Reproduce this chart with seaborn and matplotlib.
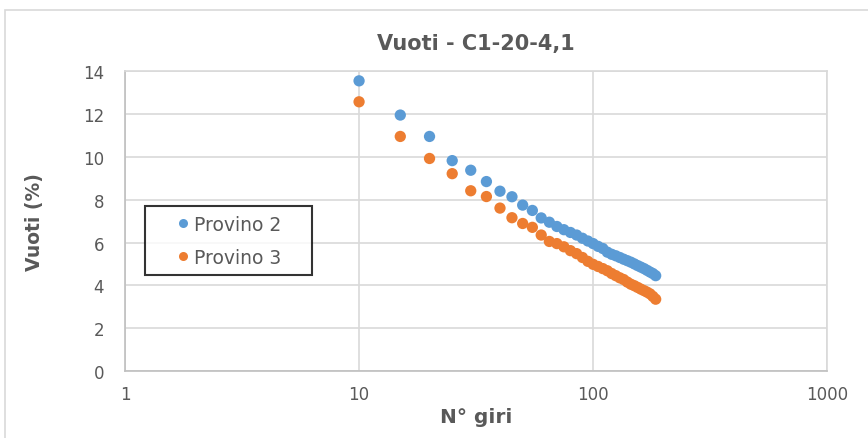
import pandas as pd
import matplotlib
matplotlib.use("Agg")
import matplotlib.pyplot as plt
import seaborn as sns
from matplotlib.patches import Rectangle

# N° giri (ogni 5 giri)
giri = list(range(10, 190, 5))

provino_2 = [13.56, 11.96, 10.96, 9.83, 9.38, 8.85, 8.40, 8.14, 7.75, 7.50,
             7.15, 6.95, 6.75, 6.60, 6.47, 6.35, 6.20, 6.07, 5.95, 5.82,
             5.72, 5.55, 5.45, 5.38, 5.30, 5.22, 5.15, 5.08, 5.00, 4.92,
             4.85, 4.78, 4.70, 4.62, 4.55, 4.45]

provino_3 = [12.58, 10.96, 9.93, 9.22, 8.42, 8.15, 7.61, 7.16, 6.89, 6.71,
             6.35, 6.05, 5.95, 5.80, 5.62, 5.48, 5.30, 5.12, 4.98, 4.88,
             4.78, 4.68, 4.55, 4.45, 4.35, 4.27, 4.15, 4.05, 3.98, 3.90,
             3.82, 3.75, 3.68, 3.60, 3.48, 3.35]

dati = pd.DataFrame({
    "N° giri": giri * 2,
    "Vuoti (%)": provino_2 + provino_3,
    "Provino": ["Provino 2"] * len(giri) + ["Provino 3"] * len(giri),
})

sns.set_style("white")
plt.rcParams["font.family"] = ["DejaVu Sans"]

grigio = "#595959"
colori = {"Provino 2": "#5B9BD5", "Provino 3": "#ED7D31"}

fig = plt.figure(figsize=(8.68, 4.39), dpi=100)
ax = fig.add_axes([0.144, 0.153, 0.809, 0.682])

# cornice esterna del grafico
fig.patches.append(Rectangle((0.006, -0.01), 1.0, 0.985, transform=fig.transFigure,
                             fill=False, edgecolor="#D9D9D9", linewidth=1.2))

sns.scatterplot(data=dati, x="N° giri", y="Vuoti (%)", hue="Provino", palette=colori,
                s=66, linewidth=0, ax=ax, zorder=3)

ax.set_xscale("log")
ax.set_xlim(1, 1000)
ax.set_ylim(0, 14)
ax.set_yticks(range(0, 15, 2))
ax.set_xticks([1, 10, 100, 1000])
ax.set_xticklabels(["1", "10", "100", "1000"])
ax.minorticks_off()
ax.grid(True, color="#D9D9D9", linewidth=1.2)
ax.set_axisbelow(True)
for lato in ["top", "right"]:
    ax.spines[lato].set_color("#D9D9D9")
for lato in ["left", "bottom"]:
    ax.spines[lato].set_color("#BFBFBF")
for sp in ax.spines.values():
    sp.set_linewidth(1.2)
ax.tick_params(length=0, labelsize=12, labelcolor=grigio, pad=10)
ax.tick_params(axis="y", pad=15)

ax.set_title("Vuoti - C1-20-4,1", fontsize=15, fontweight="bold", color=grigio, pad=16)
ax.set_xlabel("N° giri", fontsize=14.5, fontweight="bold", color=grigio, labelpad=3)
ax.set_ylabel("Vuoti (%)", fontsize=13.5, fontweight="bold", color=grigio, labelpad=28)

leg = ax.legend(loc="center", bbox_to_anchor=(0.028, 0.32, 0.238, 0.23), mode="expand",
                borderaxespad=0, fontsize=13.5, frameon=True, fancybox=False,
                edgecolor="black", handlelength=3.14, handletextpad=-0.98,
                borderpad=0.45, labelspacing=0.75, markerscale=0.8)
leg.get_frame().set_linewidth(1.5)
for t in leg.get_texts():
    t.set_color(grigio)

plt.savefig("out.png", dpi=100)
